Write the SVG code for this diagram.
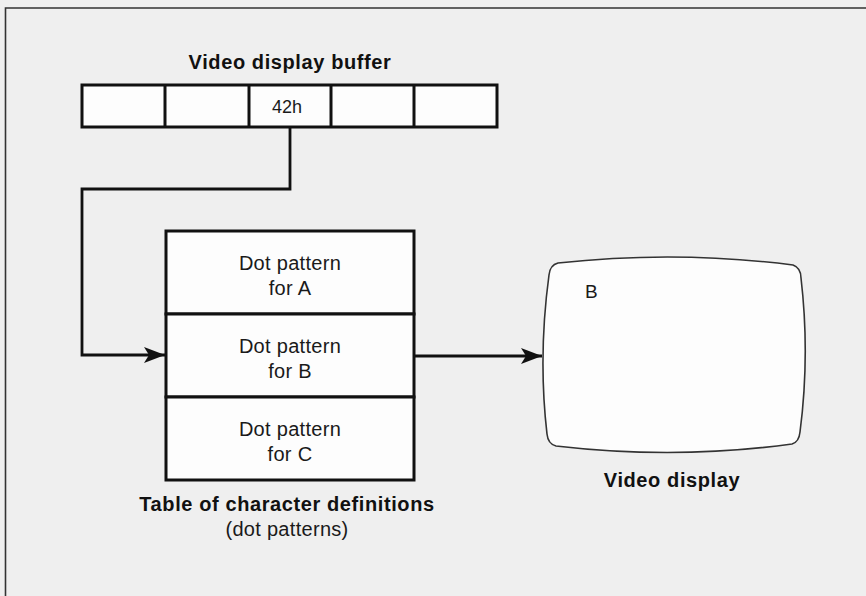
<svg xmlns="http://www.w3.org/2000/svg" width="866" height="596" viewBox="0 0 866 596">
<defs>
<marker id="arr" markerUnits="userSpaceOnUse" markerWidth="24" markerHeight="18" refX="21" refY="8" orient="auto">
<path d="M0,0 L21,8 L0,16 L5,8 z" fill="#111"/>
</marker>
<style>
.bold{font-family:"Liberation Sans",Arial,sans-serif;font-weight:bold;font-size:20px;letter-spacing:0.6px;fill:#111;text-anchor:middle}
.reg{font-family:"Liberation Sans",Arial,sans-serif;font-size:20px;letter-spacing:0.3px;fill:#1a1a1a;text-anchor:middle}
.cell{fill:#fdfdfd;stroke:#111;stroke-width:3}
.conn{fill:none;stroke:#111;stroke-width:2.8}
</style>
</defs>
<rect x="0" y="0" width="866" height="596" fill="#efefef"/>
<path d="M5.5,596 V8 H866" fill="none" stroke="#333" stroke-width="1.6"/>

<g id="buffer">
<text class="bold" x="290" y="69">Video display buffer</text>
<rect class="cell" x="82" y="85" width="415" height="42"/>
<line x1="165" y1="85" x2="165" y2="127" stroke="#111" stroke-width="3"/>
<line x1="249" y1="85" x2="249" y2="127" stroke="#111" stroke-width="3"/>
<line x1="331" y1="85" x2="331" y2="127" stroke="#111" stroke-width="3"/>
<line x1="414" y1="85" x2="414" y2="127" stroke="#111" stroke-width="3"/>
<text x="287" y="113" font-family="Liberation Sans, Arial, sans-serif" font-size="18" fill="#1a1a1a" text-anchor="middle">42h</text>
</g>

<g id="table">
<rect class="cell" x="166" y="231" width="248" height="83"/>
<rect class="cell" x="166" y="314" width="248" height="83"/>
<rect class="cell" x="166" y="397" width="248" height="83"/>
<text class="reg" x="290" y="270">Dot pattern</text>
<text class="reg" x="290" y="295">for A</text>
<text class="reg" x="290" y="353">Dot pattern</text>
<text class="reg" x="290" y="378">for B</text>
<text class="reg" x="290" y="436">Dot pattern</text>
<text class="reg" x="290" y="461">for C</text>
<text class="bold" x="287" y="511">Table of character definitions</text>
<text class="reg" x="287" y="536">(dot patterns)</text>
</g>

<g id="display">
<path d="M558,263 Q676,250 793,265 Q801,268 801,278 Q810,355 800,432 Q799,442 792,444 Q676,460 556,446 Q548,444 547,434 Q538,356 549,275 Q550,265 558,263 Z" fill="#fdfdfd" stroke="#333" stroke-width="1.6"/>
<text x="585" y="298" font-family="Liberation Sans, Arial, sans-serif" font-size="19" fill="#1a1a1a">B</text>
<text class="bold" x="672" y="487">Video display</text>
</g>

<g id="connectors">
<path class="conn" d="M290,127 V189 H82 V355 H165" marker-end="url(#arr)"/>
<path class="conn" d="M414,356 H542" marker-end="url(#arr)"/>
</g>
</svg>
